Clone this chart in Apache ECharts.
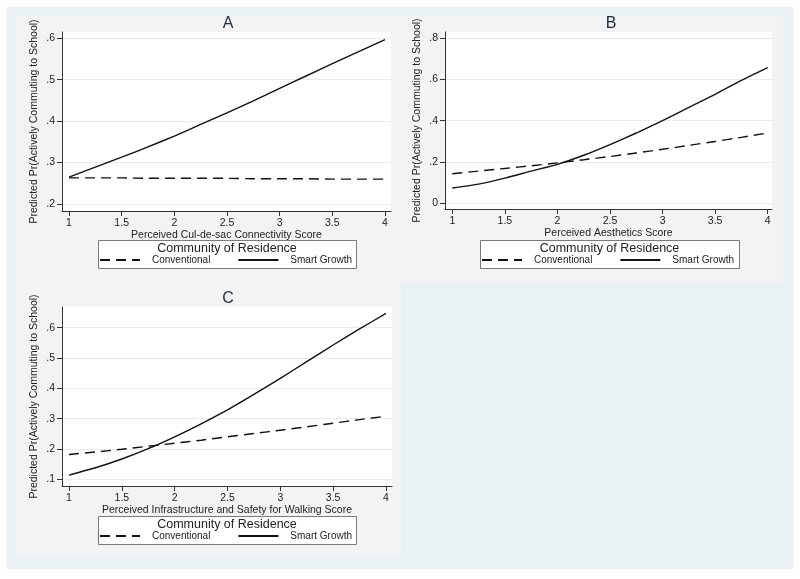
<!DOCTYPE html>
<html><head><meta charset="utf-8">
<script src="https://cdn.jsdelivr.net/npm/echarts@6/dist/echarts.min.js"></script>
<style>html,body{margin:0;padding:0;background:#fff}#c{width:800px;height:579px}</style>
</head><body><div id="c"></div>
<script>
// ---- data ----
const xValues = [1, 1.25, 1.5, 1.75, 2, 2.25, 2.5, 2.75, 3, 3.25, 3.5, 3.75, 4];
const xTicks = [1, 1.5, 2, 2.5, 3, 3.5, 4];
const panelTitles = ['A', 'B', 'C'];
const xTitles = ['Perceived Cul-de-sac Connectivity Score', 'Perceived Aesthetics Score', 'Perceived Infrastructure and Safety for Walking Score'];
const yTitle = 'Predicted Pr(Actively Commuting to School)';
const legendTitle = 'Community of Residence';
const seriesNames = ['Conventional', 'Smart Growth'];
const yTicksA = [0.2, 0.3, 0.4, 0.5, 0.6];
const yTicksB = [0, 0.2, 0.4, 0.6, 0.8];
const yTicksC = [0.1, 0.2, 0.3, 0.4, 0.5, 0.6];
const convA = [0.263, 0.263, 0.263, 0.262, 0.262, 0.262, 0.262, 0.261, 0.261, 0.261, 0.260, 0.260, 0.260];
const smartA = [0.265, 0.289, 0.313, 0.338, 0.364, 0.392, 0.420, 0.449, 0.479, 0.509, 0.539, 0.568, 0.597];
const convB = [0.142, 0.155, 0.168, 0.181, 0.195, 0.210, 0.226, 0.243, 0.261, 0.280, 0.299, 0.319, 0.340];
const smartB = [0.073, 0.092, 0.121, 0.155, 0.188, 0.232, 0.284, 0.340, 0.400, 0.464, 0.528, 0.595, 0.657];
const convC = [0.182, 0.190, 0.199, 0.209, 0.219, 0.229, 0.240, 0.251, 0.262, 0.273, 0.285, 0.297, 0.308];
const smartC = [0.114, 0.138, 0.167, 0.201, 0.240, 0.283, 0.329, 0.380, 0.433, 0.488, 0.543, 0.596, 0.647];

// ---- layout ----
const FONT = '"Liberation Sans", Arial, sans-serif';
const grids = [
  {left: 62, top: 32, width: 329, height: 179},
  {left: 445, top: 32, width: 327, height: 177},
  {left: 62, top: 307, width: 330, height: 179}
];
const xRange = [[0.9335, 4.057], [0.9306, 4.041], [0.9335, 4.057]];
const yRange = [[0.1831, 0.6152], [-0.029, 0.8305], [0.0779, 0.6683]];
const yTicks = [yTicksA, yTicksB, yTicksC];
const conv = [convA, convB, convC];
const smart = [smartA, smartB, smartC];
const legendBoxes = [
  {x: 98, y: 240, w: 258, h: 28},
  {x: 480, y: 240, w: 259, h: 28},
  {x: 98, y: 516, w: 258, h: 28}
];
const titlePos = [[228, 16], [611, 16], [228, 291]];

const fmtY = v => {
  if (Math.abs(v) < 1e-9) return '0';
  return v.toFixed(1).replace(/^0\./, '.');
};
const axisColor = '#333';
const textColor = '#222';

const option = {
  backgroundColor: '#ffffff',
  animation: false,
  title: panelTitles.map((t, i) => ({
    text: t, left: titlePos[i][0], top: titlePos[i][1], textAlign: 'center', padding: 0,
    textStyle: {fontFamily: FONT, fontSize: 16, fontWeight: 'normal', color: '#1e2d3c'}
  })),
  grid: grids.map(g => Object.assign({show: true, backgroundColor: '#ffffff', borderWidth: 0, containLabel: false}, g)),
  xAxis: grids.map((g, i) => ({
    type: 'value', gridIndex: i, min: xRange[i][0], max: xRange[i][1],
    name: xTitles[i], nameLocation: 'middle', nameGap: 17,
    nameTextStyle: {fontFamily: FONT, fontSize: 10.5, color: textColor},
    axisLine: {show: true, onZero: false, lineStyle: {color: axisColor, width: 1}},
    axisTick: {show: true, inside: false, length: 5, customValues: xTicks, lineStyle: {color: axisColor}},
    axisLabel: {customValues: xTicks, fontFamily: FONT, fontSize: 10.5, color: textColor, margin: 7,
      formatter: v => String(v)},
    splitLine: {show: false}
  })),
  yAxis: grids.map((g, i) => ({
    type: 'value', gridIndex: i, min: yRange[i][0], max: yRange[i][1],
    name: yTitle, nameLocation: 'middle', nameGap: 22, nameRotate: 90,
    nameTextStyle: {fontFamily: FONT, fontSize: 10.5, color: textColor},
    axisLine: {show: true, onZero: false, lineStyle: {color: axisColor, width: 1}},
    axisTick: {show: true, inside: false, length: 5, customValues: yTicks[i], lineStyle: {color: axisColor}},
    axisLabel: {customValues: yTicks[i], fontFamily: FONT, fontSize: 10.5, color: textColor, margin: 7,
      formatter: fmtY},
    splitLine: {show: true, lineStyle: {color: '#ececec', width: 1}}
  })),
  legend: legendBoxes.map(b => ({
    left: b.x + 1, top: b.y + 15, orient: 'horizontal', padding: 0,
    itemWidth: 40, itemHeight: 10, itemGap: 27, selectedMode: false,
    data: seriesNames,
    itemStyle: {color: 'rgba(0,0,0,0)', borderWidth: 0, opacity: 0},
    textStyle: {fontFamily: FONT, fontSize: 10, color: textColor, padding: [0, 0, 0, 7]}
  })),
  graphic: [
    {type: 'rect', shape: {x: 7, y: 7, width: 786, height: 562}, style: {fill: '#e9f1f3'}, z: -20, silent: true},
    {type: 'rect', shape: {x: 16, y: 16, width: 385, height: 266}, style: {fill: '#f3f3f3'}, z: -19, silent: true},
    {type: 'rect', shape: {x: 401, y: 16, width: 382, height: 266}, style: {fill: '#f3f3f3'}, z: -19, silent: true},
    {type: 'rect', shape: {x: 16, y: 282, width: 385, height: 275}, style: {fill: '#f3f3f3'}, z: -19, silent: true}
  ].concat(legendBoxes.map(b => ({
    type: 'rect', shape: {x: b.x + 0.5, y: b.y + 0.5, width: b.w, height: b.h},
    style: {fill: '#ffffff', stroke: '#7a7a7a', lineWidth: 1}, z: 1, silent: true
  }))).concat(legendBoxes.map(b => ({
    type: 'text', x: b.x + b.w / 2, y: b.y + 8.5, z: 2, silent: true,
    style: {text: legendTitle, fontFamily: FONT, fontSize: 12.5, fill: textColor, align: 'center', verticalAlign: 'middle'}
  }))),
  series: []
};

for (let i = 0; i < 3; i++) {
  option.series.push({
    name: seriesNames[0], type: 'line', xAxisIndex: i, yAxisIndex: i,
    data: xValues.map((x, k) => [x, conv[i][k]]),
    symbol: 'none', smooth: 0.2,
    lineStyle: {color: '#111', width: 1.4, type: [10, 6]}, itemStyle: {color: '#111'}
  });
  option.series.push({
    name: seriesNames[1], type: 'line', xAxisIndex: i, yAxisIndex: i,
    data: xValues.map((x, k) => [x, smart[i][k]]),
    symbol: 'none', smooth: 0.2,
    lineStyle: {color: '#111', width: 1.4, type: 'solid'}, itemStyle: {color: '#111'}
  });
}

const chart = echarts.init(document.getElementById('c'), null, {renderer: 'canvas'});
chart.setOption(option);
</script>
</body></html>
